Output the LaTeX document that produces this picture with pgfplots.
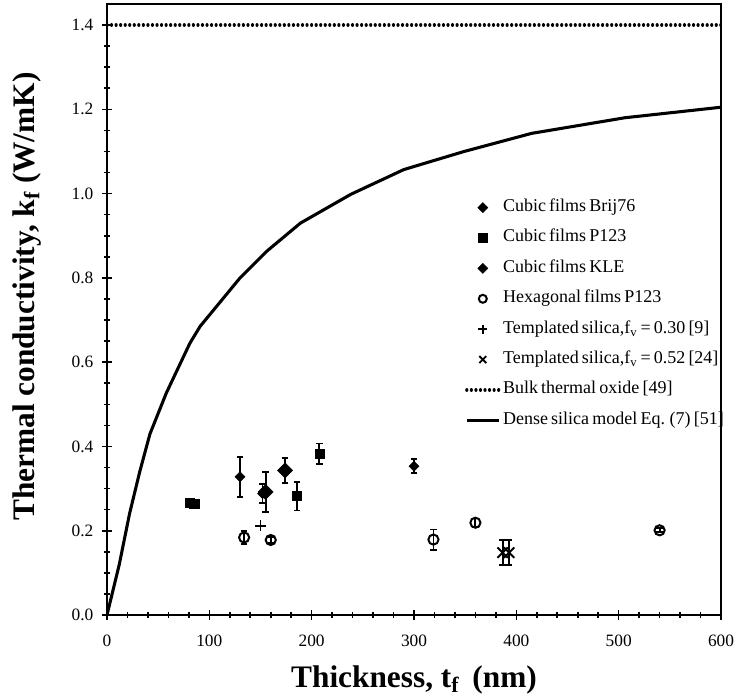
\documentclass[border=0pt]{standalone}
\usepackage{fontspec}
\setmainfont{Liberation Serif}
\newfontfamily\legfont{Liberation Serif}[WordSpace=0.7]
\usepackage{pgfplots}
\pgfplotsset{compat=1.18}

% 1 px of the reference = 0.75 pt
\begin{document}
\begin{tikzpicture}
\begin{axis}[
  name=ax,
  scale only axis,
  width=460.5pt, height=458.25pt,
  xmin=0, xmax=600, ymin=0, ymax=1.45,
  xtick={0,100,...,600}, ytick={0,0.2,...,1.4},
  minor x tick num=4, minor y tick num=3,
  xtick pos=left, ytick pos=left,
  tick align=center,
  major tick length=7.5pt, minor tick length=4pt,
  every tick/.style={black, line width=1.2pt},
  axis line style={line width=1.5pt},
  /pgf/number format/assume math mode=true,
  yticklabel style={/pgf/number format/fixed, /pgf/number format/fixed zerofill, /pgf/number format/precision=1},
  xticklabel style={/pgf/number format/fixed},
  tick label style={font=\fontsize{13}{14}\selectfont},
  xticklabel style={yshift=-8pt},
  yticklabel style={xshift=-3pt},
  xlabel={Thickness, t\textsubscript{f}\, (nm)},
  ylabel={Thermal conductivity, k\textsubscript{f} (W/mK)},
  label style={font=\fontsize{23.5}{26}\selectfont\bfseries},
  xlabel style={at={(axis description cs:0.5,-0.1064)}, anchor=center},
  ylabel style={at={(axis description cs:-0.1303,0.521)}, anchor=center},
  legend image code/.code={\draw[mark repeat=2, mark phase=2, #1] plot coordinates {(0pt,0pt) (12pt,0pt) (24pt,0pt)};},
  legend cell align=left,
  legend style={draw=none, fill=none, inner sep=0pt,
    at={(0.583,0.6825)}, anchor=north west,
    row sep=8.8pt,
    font=\legfont\fontsize{13.5}{14}\selectfont,
    nodes={inner sep=0pt, text height=10pt, text depth=4pt},
    /tikz/every odd column/.append style={column sep=2pt}},
  error bars/y dir=both, error bars/y explicit,
  error bars/error bar style={line width=1.4pt, solid},
  error bars/error mark options={rotate=90, mark size=2.4pt, line width=1.4pt},
]
% Cubic films Brij76
\addplot[only marks, mark=square*, mark size=2.65pt, mark options={rotate=45, fill=black}]
  coordinates {(130,0.328) +- (0,0.047) (152,0.288) +- (0,0.022) (300,0.353) +- (0,0.017)};
\addlegendentry{Cubic films Brij76}
% Cubic films P123
\addplot[only marks, mark=square*, mark size=3.4pt, mark options={fill=black}]
  coordinates {(80.5,0.267) +- (0,0.003) (85.3,0.264) +- (0,0.003) (185.4,0.282) +- (0,0.034) (207.5,0.383) +- (0,0.024)};
\addlegendentry{Cubic films P123}
% Cubic films KLE
\addplot[only marks, mark=square*, mark size=4pt, mark options={rotate=45, fill=black},
  legend image post style={mark size=2.65pt}]
  coordinates {(155,0.292) +- (0,0.048) (174,0.343) +- (0,0.030)};
\addlegendentry{Cubic films KLE}
% Hexagonal films P123
\addplot[only marks, mark=o, mark size=3.8pt, mark options={line width=1.5pt},
  legend image post style={mark size=3pt}]
  coordinates {(134,0.184) +- (0,0.015) (160,0.178) +- (0,0.007) (319,0.179) +- (0,0.024) (360,0.219) +- (0,0.010) (540,0.201) +- (0,0.005)};
\addlegendentry{Hexagonal films P123}
% Templated silica fv = 0.30
\addplot[only marks, mark=+, mark size=4pt, mark options={line width=1.4pt},
  legend image post style={mark size=3.5pt}]
  coordinates {(150,0.212) +- (0,0)};
\addlegendentry{Templated silica,f\textsubscript{v} = 0.30 [9]}
% Templated silica fv = 0.52
\addplot[only marks, mark=x, mark size=5.5pt, mark options={line width=1.4pt},
  legend image post style={mark size=3.7pt}]
  coordinates {(386.6,0.148) +- (0,0.030) (393,0.148) +- (0,0.030)};
\addlegendentry{Templated silica,f\textsubscript{v} = 0.52 [24]}
% Bulk thermal oxide
\addplot[line width=2.4pt, line cap=round, dash pattern=on 0.01pt off 3.4pt, no marks]
  coordinates {(0,1.4) (600,1.4)};
\addlegendentry{Bulk thermal oxide [49]}
% Dense silica model
\addplot[line width=2.3pt, no marks, line join=round]
  coordinates {(0,0) (12,0.12) (22,0.24) (32,0.34) (42,0.43) (58,0.527) (81,0.645)
    (91,0.685) (130,0.80) (156,0.863) (189,0.93) (238,0.998) (290,1.057) (349,1.10)
    (415,1.143) (506,1.18) (600,1.205)};
\addlegendentry{Dense silica model Eq. (7) [51]}
\end{axis}
\pgfresetboundingbox
\path[use as bounding box] (ax.south west) ++(-80.25pt,-62.25pt) rectangle ([xshift=12pt,yshift=3pt]ax.north east);
\end{tikzpicture}
\end{document}
